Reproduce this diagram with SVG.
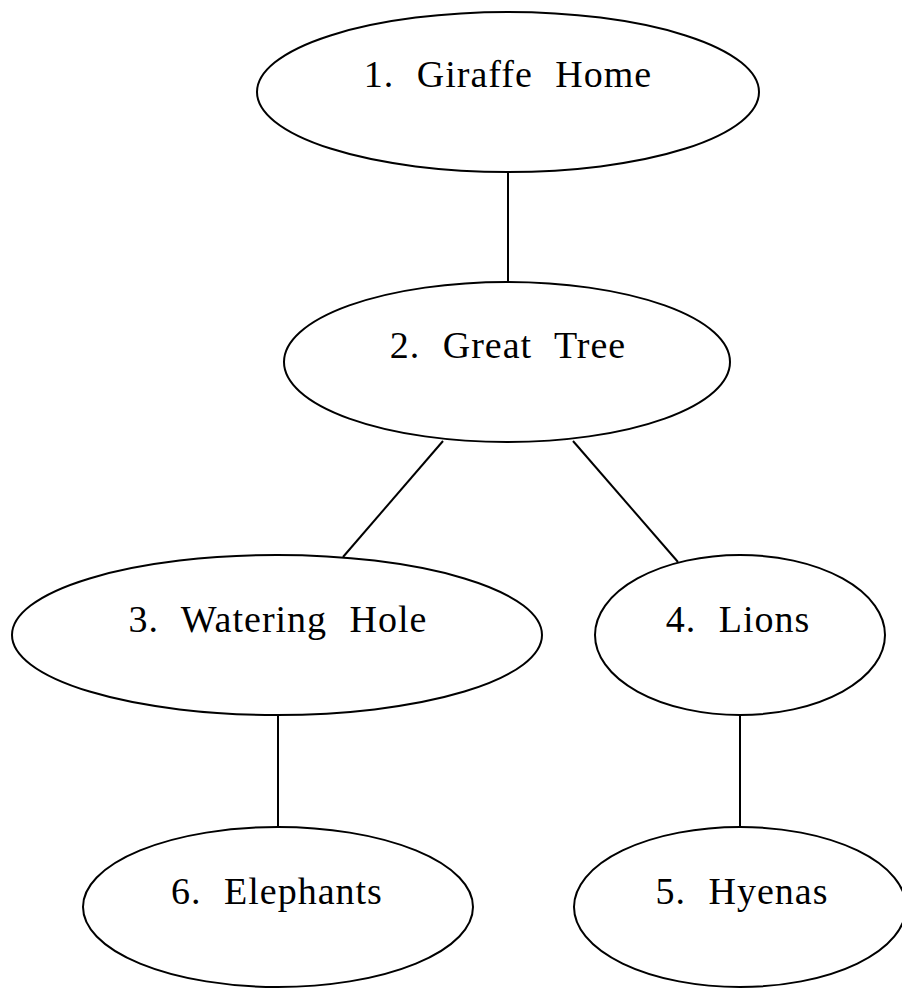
<svg xmlns="http://www.w3.org/2000/svg" width="902" height="989" viewBox="0 0 902 989">
<style>
  .node ellipse { fill: #ffffff; stroke: #000000; stroke-width: 2; }
  .node text { font-family: "Liberation Serif", "DejaVu Serif", serif; font-size: 38px; fill: #000000; text-anchor: middle; word-spacing: 12px; letter-spacing: 1px; }
  #connectors line { stroke: #000000; stroke-width: 2; }
</style>
<rect width="902" height="989" fill="#ffffff"/>
<g id="connectors">
  <line x1="508" y1="172" x2="508" y2="282"/>
  <line x1="443" y1="441" x2="343" y2="557"/>
  <line x1="573" y1="441" x2="678" y2="562"/>
  <line x1="278" y1="715" x2="278" y2="828"/>
  <line x1="740" y1="715" x2="740" y2="828"/>
</g>
<g id="node1" class="node">
  <ellipse cx="508" cy="92" rx="251" ry="80"/>
  <text x="508" y="87">1. Giraffe Home</text>
</g>
<g id="node2" class="node">
  <ellipse cx="507" cy="362" rx="223" ry="80"/>
  <text x="508" y="358">2. Great Tree</text>
</g>
<g id="node3" class="node">
  <ellipse cx="277" cy="635" rx="265" ry="80"/>
  <text x="278" y="632">3. Watering Hole</text>
</g>
<g id="node4" class="node">
  <ellipse cx="740" cy="635" rx="145" ry="80"/>
  <text x="738" y="632">4. Lions</text>
</g>
<g id="node6" class="node">
  <ellipse cx="278" cy="907" rx="195" ry="80"/>
  <text x="277" y="904">6. Elephants</text>
</g>
<g id="node5" class="node">
  <ellipse cx="740" cy="907" rx="166" ry="80"/>
  <text x="742" y="904">5. Hyenas</text>
</g>
</svg>
